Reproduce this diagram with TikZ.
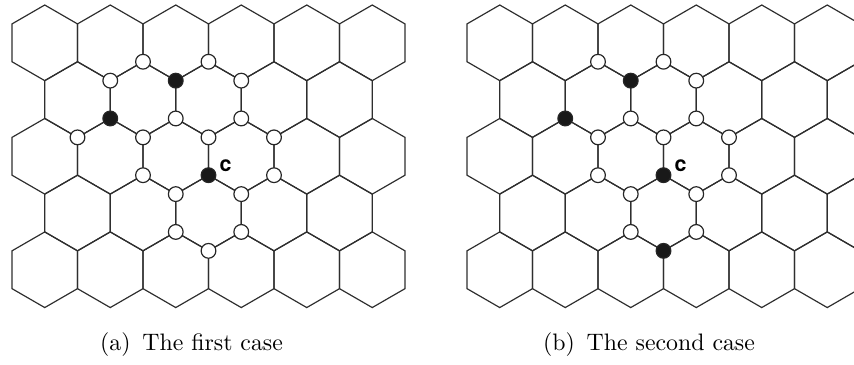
\documentclass[tikz,border=0pt]{standalone}
\usepackage{fontspec}
\newfontfamily\labelfont{TeX Gyre Heros}
\begin{document}
\begin{tikzpicture}[x=0.42pt,y=-0.42pt,
  grid/.style={draw=black!82,line width=0.5pt,line join=miter},
  vtx/.style={circle,draw=black!85,line width=0.5pt,fill=white,minimum size=6.2pt,inner sep=0pt},
  blk/.style={vtx,fill=black!90},
  clabel/.style={font=\labelfont\bfseries\fontsize{9}{10}\selectfont,inner sep=0pt},
  captext/.style={font=\fontsize{10}{12}\selectfont,inner sep=0pt}]
\useasboundingbox (0,0) rectangle (854,364);
\pgfmathsetmacro\w{65.5}
\pgfmathsetmacro\s{37.82}
\pgfmathsetmacro\h{\s/2}
% hexagonal grids
\begin{scope}
\clip (0,0) rectangle (854,364);
\foreach \X/\nodd in {12/4,467/5} {
  \foreach \r in {0,...,4} {
    \pgfmathsetmacro\cy{5+\s+1.5*\s*\r}
    \pgfmathtruncatemacro\odd{mod(\r,2)}
    \ifnum\odd=0
      \foreach \k in {0,...,5} {
        \pgfmathsetmacro\cx{\X+\w/2+\k*\w}
        \draw[grid] (\cx,\cy-\s) -- ++(\w/2,\h) -- ++(0,\s) -- ++(-\w/2,\h) -- ++(-\w/2,-\h) -- ++(0,-\s) -- cycle;
      }
    \else
      \foreach \k in {0,...,\nodd} {
        \pgfmathsetmacro\cx{\X+\w+\k*\w}
        \draw[grid] (\cx,\cy-\s) -- ++(\w/2,\h) -- ++(0,\s) -- ++(-\w/2,\h) -- ++(-\w/2,-\h) -- ++(0,-\s) -- cycle;
      }
    \fi
  }
}
\end{scope}
% left panel vertices
\node[vtx] (a1) at (143,61.73) {};
\node[vtx] (a2) at (208.5,61.73) {};
\node[vtx] (a3) at (110.25,80.64) {};
\node[blk] (a4) at (175.75,80.64) {};
\node[vtx] (a5) at (241.25,80.64) {};
\node[blk] (a6) at (110.25,118.46) {};
\node[vtx] (a7) at (175.75,118.46) {};
\node[vtx] (a8) at (241.25,118.46) {};
\node[vtx] (a9) at (77.5,137.37) {};
\node[vtx] (a10) at (143,137.37) {};
\node[vtx] (a11) at (208.5,137.37) {};
\node[vtx] (a12) at (274,137.37) {};
\node[vtx] (a13) at (143,175.19) {};
\node[blk] (ac) at (208.5,175.19) {};
\node[vtx] (a15) at (274,175.19) {};
\node[vtx] (a16) at (175.75,194.1) {};
\node[vtx] (a17) at (241.25,194.1) {};
\node[vtx] (a18) at (175.75,231.92) {};
\node[vtx] (a19) at (241.25,231.92) {};
\node[vtx] (a20) at (208.5,250.83) {};
\node[clabel] (lca) at ([shift={(17,-9.5)}]ac.center) {c};
% right panel vertices
\begin{scope}[shift={(455,0)}]
\node[vtx] (b1) at (143,61.73) {};
\node[vtx] (b2) at (208.5,61.73) {};
\node[blk] (b4) at (175.75,80.64) {};
\node[vtx] (b5) at (241.25,80.64) {};
\node[blk] (b6) at (110.25,118.46) {};
\node[vtx] (b7) at (175.75,118.46) {};
\node[vtx] (b8) at (241.25,118.46) {};
\node[vtx] (b10) at (143,137.37) {};
\node[vtx] (b11) at (208.5,137.37) {};
\node[vtx] (b12) at (274,137.37) {};
\node[vtx] (b13) at (143,175.19) {};
\node[blk] (bc) at (208.5,175.19) {};
\node[vtx] (b15) at (274,175.19) {};
\node[vtx] (b16) at (175.75,194.1) {};
\node[vtx] (b17) at (241.25,194.1) {};
\node[vtx] (b18) at (175.75,231.92) {};
\node[vtx] (b19) at (241.25,231.92) {};
\node[blk] (b20) at (208.5,250.83) {};
\end{scope}
\node[clabel] (lcb) at ([shift={(17,-9.5)}]bc.center) {c};
% captions
\node[captext] (capa) at (191.5,345) {(a)\hspace{5pt}The first case};
\node[captext] (capb) at (649,345) {(b)\hspace{5pt}The second case};
\end{tikzpicture}
\end{document}
